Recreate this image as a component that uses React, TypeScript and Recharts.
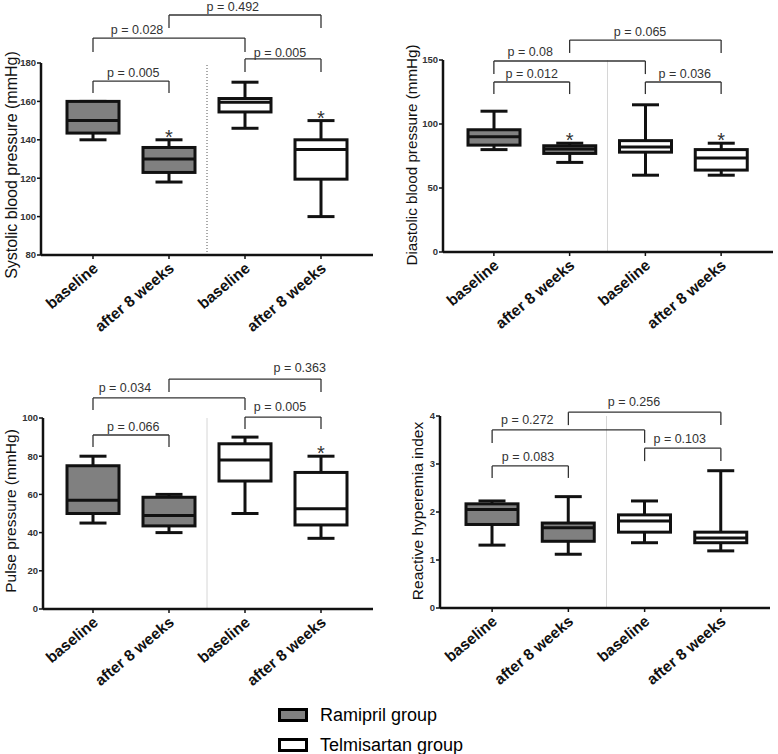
import React from "react";
import { ComposedChart, Bar, XAxis, YAxis, ReferenceLine, ReferenceDot } from "recharts";

const FONT = '"Liberation Sans", Arial, Helvetica, sans-serif';

const categories = ["baseline", "after 8 weeks", "baseline", "after 8 weeks"];
const groups = ["Ramipril group", "Ramipril group", "Telmisartan group", "Telmisartan group"];
const groupFill: Record<string, string> = { "Ramipril group": "#808080", "Telmisartan group": "#ffffff" };

// box summaries per category: [min, q1, median, q3, max]
const systolic = [
  [140, 143.5, 150, 160, 160],
  [118, 123, 130, 136, 140],
  [146, 154.5, 159.5, 161.5, 170],
  [100, 119.5, 135, 140, 150],
];
const diastolic = [
  [80, 83.5, 90, 95.5, 110],
  [70, 77, 80.5, 83, 85],
  [60, 78, 82, 87, 115],
  [60, 64, 73.5, 80, 85],
];
const pulse = [
  [45, 50, 57, 75, 80],
  [40, 43.5, 49, 58.5, 60],
  [50, 67, 78, 86.5, 90],
  [37, 44, 52.5, 71.5, 80],
];
const rhi = [
  [1.31, 1.74, 2.05, 2.17, 2.23],
  [1.12, 1.39, 1.67, 1.77, 2.32],
  [1.36, 1.58, 1.81, 1.94, 2.23],
  [1.19, 1.36, 1.46, 1.58, 2.86],
];

// asterisk = significant vs baseline
const systolicSig = [false, true, false, true];
const diastolicSig = [false, true, false, true];
const pulseSig = [false, false, false, true];
const rhiSig = [false, false, false, false];

// comparisons (category index pairs) and their p values
const bracketPairs = [[0, 1], [0, 2], [1, 3], [2, 3]];
const systolicP = ["p = 0.005", "p = 0.028", "p = 0.492", "p = 0.005"];
const diastolicP = ["p = 0.012", "p = 0.08", "p = 0.065", "p = 0.036"];
const pulseP = ["p = 0.066", "p = 0.034", "p = 0.363", "p = 0.005"];
const rhiP = ["p = 0.083", "p = 0.272", "p = 0.256", "p = 0.103"];

// bracket placement in data units: bar height, leg end, text x (band units), text y
const systolicBr = [
  { top: 170.6, leg: 164.4, tx: 1.03, ty: 175.3 },
  { top: 193, leg: 185.7, tx: 1.08, ty: 197.7 },
  { top: 205, leg: 198.2, tx: 2.34, ty: 209.2 },
  { top: 182.1, leg: 175.3, tx: 2.96, ty: 185.7 },
];
const diastolicBr = [
  { top: 132.8, leg: 123.4, tx: 1.0, ty: 139.8 },
  { top: 149.2, leg: 139, tx: 0.98, ty: 156.3 },
  { top: 165.6, leg: 155.5, tx: 2.43, ty: 171.9 },
  { top: 132.8, leg: 123.4, tx: 3.02, ty: 139.8 },
];
const pulseBr = [
  { top: 91.1, leg: 84.8, tx: 1.03, ty: 95.8 },
  { top: 110.5, leg: 104.2, tx: 0.92, ty: 116.2 },
  { top: 120.4, leg: 113.6, tx: 3.22, ty: 126.7 },
  { top: 100.5, leg: 94.2, tx: 2.96, ty: 105.8 },
];
const rhiBr = [
  { top: 2.96, leg: 2.71, tx: 0.97, ty: 3.15 },
  { top: 3.71, leg: 3.44, tx: 0.96, ty: 3.92 },
  { top: 4.08, leg: 3.81, tx: 2.36, ty: 4.31 },
  { top: 3.33, leg: 3.06, tx: 2.96, ty: 3.54 },
];

const toRows = (vals: number[][], sig: boolean[]) =>
  vals.map((v, i) => ({
    key: `c${i}`,
    slot: i + 0.5,
    label: categories[i],
    group: groups[i],
    range: [v[0], v[4]],
    min: v[0],
    q1: v[1],
    med: v[2],
    q3: v[3],
    max: v[4],
    sig: sig[i],
  }));

const BoxShape = (props: any) => {
  const { x, y, width, height, payload } = props;
  if (!payload) return null;
  const top = Math.min(y, y + height);
  const h = Math.abs(height);
  const { min, q1, med, q3, max, sig, group } = payload;
  const py = (v: number) => top + ((max - v) / (max - min)) * h;
  const cx = x + width / 2;
  const cap = 13.5;
  const sw = 3;
  return (
    <g>
      <line x1={cx} x2={cx} y1={py(max)} y2={py(q3)} stroke="#111" strokeWidth={sw} />
      <line x1={cx} x2={cx} y1={py(q1)} y2={py(min)} stroke="#111" strokeWidth={sw} />
      <line x1={cx - cap} x2={cx + cap} y1={py(max)} y2={py(max)} stroke="#111" strokeWidth={sw} />
      <line x1={cx - cap} x2={cx + cap} y1={py(min)} y2={py(min)} stroke="#111" strokeWidth={sw} />
      <rect x={x} y={py(q3)} width={width} height={py(q1) - py(q3)} fill={groupFill[group]} stroke="#111" strokeWidth={sw} />
      <line x1={x} x2={x + width} y1={py(med)} y2={py(med)} stroke="#111" strokeWidth={sw} />
      {sig && (
        <text x={cx} y={py(max) + 4} textAnchor="middle" fontSize={20} fill="#333" fontFamily={FONT}>
          *
        </text>
      )}
    </g>
  );
};

const XTick = (props: any) => {
  const { x, y, payload } = props;
  const label = categories[payload.index] ?? "";
  return (
    <text
      transform={`translate(${x + 6},${y + 9}) rotate(-40)`}
      textAnchor="end"
      fontSize={15.5}
      fontWeight="bold"
      fill="#111"
      fontFamily={FONT}
    >
      {label}
    </text>
  );
};

interface PanelProps {
  rows: any[];
  pvals: string[];
  brackets: { top: number; leg: number; tx: number; ty: number }[];
  domain: [number, number];
  ticks: number[];
  title: string;
  titleX: number;
  titleY: number;
  titleSize: number;
  left: number;
  top: number;
  width: number;
  height: number;
  marginTop: number;
  marginRight: number;
  yWidth: number;
  xHeight: number;
  pad: { left: number; right: number };
  dotted?: boolean;
}

const Panel: React.FC<PanelProps> = (p) => {
  const pad = p.pad;
  return (
    <div style={{ position: "absolute", left: p.left, top: p.top }}>
      <ComposedChart
        width={p.width}
        height={p.height}
        data={p.rows}
        margin={{ top: p.marginTop, right: p.marginRight, bottom: 0, left: 0 }}
      >
        <XAxis
          xAxisId="cat"
          dataKey="key"
          height={p.xHeight}
          padding={pad}
          axisLine={{ stroke: "#111", strokeWidth: 2.5 }}
          tickLine={{ stroke: "#111", strokeWidth: 1.5 }}
          tickSize={4}
          interval={0}
          tick={<XTick />}
        />
        {/* linear twin of the category axis, used to place brackets and p labels */}
        <XAxis xAxisId="num" dataKey="slot" type="number" domain={[0, 4]} allowDataOverflow padding={pad} hide />
        <YAxis
          width={p.yWidth}
          domain={p.domain}
          ticks={p.ticks}
          interval={0}
          axisLine={{ stroke: "#111", strokeWidth: 2.5 }}
          tickLine={{ stroke: "#111", strokeWidth: 1.5 }}
          tickSize={4}
          tickMargin={1}
          tick={{ fontSize: 9.5, fontWeight: "bold", fill: "#333", fontFamily: FONT }}
          label={{
            value: p.title,
            content: () => (
              <text
                transform={`translate(${p.titleX},${p.titleY}) rotate(-90)`}
                textAnchor="middle"
                fontSize={p.titleSize}
                fill="#111"
                fontFamily={FONT}
              >
                {p.title}
              </text>
            ),
          }}
        />
        <ReferenceLine
          xAxisId="num"
          x={2}
          stroke={p.dotted ? "#555" : "#d6d6d6"}
          strokeWidth={1}
          strokeDasharray={p.dotted ? "1 2" : undefined}
        />
        <Bar xAxisId="cat" dataKey="range" barSize={52} isAnimationActive={false} shape={<BoxShape />} />
        {bracketPairs.map(([a, b], i) => {
          const br = p.brackets[i];
          const xa = a + 0.5;
          const xb = b + 0.5;
          const st = { stroke: "#333", strokeWidth: 1.3 };
          return [
            <ReferenceLine key={`l${i}`} xAxisId="num" ifOverflow="visible" {...st}
              segment={[{ x: xa, y: br.leg }, { x: xa, y: br.top }]} />,
            <ReferenceLine key={`t${i}`} xAxisId="num" ifOverflow="visible" {...st}
              segment={[{ x: xa, y: br.top }, { x: xb, y: br.top }]} />,
            <ReferenceLine key={`r${i}`} xAxisId="num" ifOverflow="visible" {...st}
              segment={[{ x: xb, y: br.top }, { x: xb, y: br.leg }]} />,
            <ReferenceDot
              key={`p${i}`}
              xAxisId="num"
              x={br.tx}
              y={br.ty}
              r={0}
              ifOverflow="visible"
              shape={(s: any) => (
                <text x={s.cx} y={s.cy} dy="0.36em" textAnchor="middle" fontSize={12.5} fill="#333" fontFamily={FONT}>
                  {p.pvals[i]}
                </text>
              )}
            />,
          ];
        })}
      </ComposedChart>
    </div>
  );
};

const Legend = () => (
  <svg style={{ position: "absolute", left: 270, top: 700 }} width={260} height={54}>
    {[groups[0], groups[2]].map((g, i) => (
      <g key={g}>
        <rect x={9.5} y={9.5 + i * 30} width={27} height={11} fill={groupFill[g]} stroke="#000" strokeWidth={3} />
        <text x={50} y={21 + i * 30} fontSize={18} fill="#000" fontFamily={FONT}>
          {g}
        </text>
      </g>
    ))}
  </svg>
);

export default function App() {
  return (
    <div style={{ position: "absolute", left: 0, top: 0, width: 778, height: 754, background: "#fff", overflow: "hidden" }}>
      <Panel
        rows={toRows(systolic, systolicSig)}
        pvals={systolicP}
        brackets={systolicBr}
        domain={[80, 180]}
        ticks={[80, 100, 120, 140, 160, 180]}
        title="Systolic blood pressure (mmHg)"
        titleX={17}
        titleY={165}
        titleSize={16}
        left={0}
        top={0}
        width={390}
        height={345}
        marginTop={63}
        marginRight={17}
        yWidth={41}
        xHeight={90}
        pad={{ left: 14, right: 14 }}
        dotted
      />
      <Panel
        rows={toRows(diastolic, diastolicSig)}
        pvals={diastolicP}
        brackets={diastolicBr}
        domain={[0, 150]}
        ticks={[0, 50, 100, 150]}
        title="Diastolic blood pressure (mmHg)"
        titleX={27}
        titleY={155}
        titleSize={15.2}
        left={390}
        top={0}
        width={388}
        height={345}
        marginTop={60}
        marginRight={5}
        yWidth={53}
        xHeight={93}
        pad={{ left: 13, right: 14 }}
      />
      <Panel
        rows={toRows(pulse, pulseSig)}
        pvals={pulseP}
        brackets={pulseBr}
        domain={[0, 100]}
        ticks={[0, 20, 40, 60, 80, 100]}
        title="Pulse pressure (mmHg)"
        titleX={16}
        titleY={181}
        titleSize={15.5}
        left={0}
        top={330}
        width={390}
        height={424}
        marginTop={88}
        marginRight={17}
        yWidth={43}
        xHeight={145}
        pad={{ left: 12, right: 14 }}
      />
      <Panel
        rows={toRows(rhi, rhiSig)}
        pvals={rhiP}
        brackets={rhiBr}
        domain={[0, 4]}
        ticks={[0, 1, 2, 3, 4]}
        title="Reactive hyperemia index"
        titleX={33}
        titleY={181}
        titleSize={15.5}
        left={390}
        top={330}
        width={388}
        height={424}
        marginTop={86}
        marginRight={8}
        yWidth={50}
        xHeight={146}
        pad={{ left: 14, right: 11 }}
      />
      <Legend />
    </div>
  );
}
